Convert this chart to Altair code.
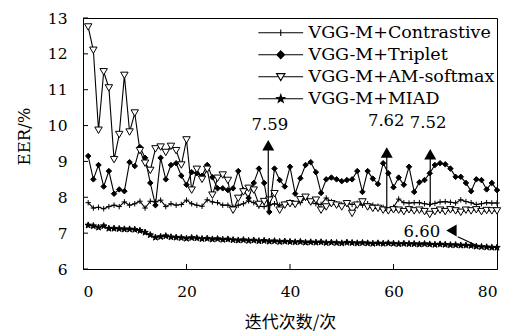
import math
import altair as alt
import pandas as pd

# ---------------- data ----------------
iters = list(range(1, 81))

contrastive = [7.85, 7.70, 7.72, 7.68, 7.74, 7.78, 7.74, 7.87, 7.78, 7.82,
               7.89, 7.70, 7.89, 7.87, 7.92, 7.74, 7.82, 7.78, 7.80, 7.92,
               7.82, 7.78, 7.75, 7.93, 7.87, 7.85, 7.78, 7.78, 7.72, 7.78,
               7.82, 7.90, 7.85, 7.75, 7.74, 7.78, 7.82, 7.78, 7.82, 7.87,
               7.82, 7.85, 7.98, 7.85, 7.82, 7.80, 7.98, 7.88, 7.82, 7.80,
               7.84, 7.80, 7.83, 7.78, 7.82, 7.78, 7.75, 7.72, 7.65, 7.72,
               7.95, 7.85, 7.84, 7.85, 7.85, 7.82, 7.80, 7.83, 7.87, 7.88,
               7.86, 7.84, 7.93, 7.88, 7.85, 7.80, 7.82, 7.85, 7.84, 7.84]

triplet = [9.15, 8.50, 8.90, 8.30, 8.73, 8.10, 8.22, 8.17, 8.98, 8.87,
           9.40, 9.10, 8.40, 7.78, 9.10, 8.50, 8.90, 8.95, 8.60, 8.35,
           8.70, 8.67, 8.60, 8.90, 8.56, 8.25, 8.25, 8.20, 8.25, 8.73,
           8.20, 7.98, 8.40, 8.80, 8.40, 7.59, 8.80, 8.48, 8.30, 8.85,
           8.10, 8.53, 8.90, 8.98, 8.70, 8.12, 8.50, 8.55, 8.50, 8.45,
           8.48, 8.50, 8.73, 8.15, 8.73, 8.52, 8.37, 8.95, 8.67, 8.28,
           8.55, 8.35, 8.85, 8.15, 8.42, 8.48, 8.67, 8.90, 8.95, 8.92,
           8.80, 8.57, 8.57, 8.40, 8.17, 8.50, 8.48, 8.22, 8.40, 8.20]

amsoftmax = [12.75, 12.10, 9.87, 11.50, 11.05, 9.05, 9.75, 11.40, 9.82, 10.35,
             9.30, 8.95, 8.75, 9.35, 9.40, 9.25, 9.42, 9.30, 8.90, 9.60,
             8.20, 8.78, 8.50, 8.78, 8.06, 8.53, 8.62, 8.47, 7.64, 7.97,
             8.15, 8.25, 8.20, 7.80, 7.88, 7.92, 8.10, 7.64, 7.78, 7.82,
             7.80, 7.93, 8.00, 7.87, 7.92, 7.64, 7.73, 7.82, 7.78, 7.73,
             7.82, 7.55, 7.78, 7.87, 7.73, 7.69, 7.69, 7.64, 7.62, 7.65,
             7.64, 7.60, 7.65, 7.62, 7.64, 7.60, 7.52, 7.60, 7.64, 7.60,
             7.65, 7.62, 7.58, 7.64, 7.62, 7.65, 7.60, 7.63, 7.62, 7.62]

miad = [7.22, 7.20, 7.16, 7.20, 7.13, 7.13, 7.12, 7.11, 7.11, 7.10,
        7.07, 7.02, 6.95, 6.88, 6.90, 6.92, 6.89, 6.88, 6.87, 6.85,
        6.87, 6.86, 6.84, 6.85, 6.83, 6.84, 6.82, 6.83, 6.81, 6.80,
        6.81, 6.79, 6.80, 6.78, 6.79, 6.77, 6.78, 6.76, 6.77, 6.76,
        6.75, 6.76, 6.74, 6.75, 6.74, 6.75, 6.73, 6.74, 6.73, 6.72,
        6.74, 6.73, 6.72, 6.73, 6.72, 6.71, 6.72, 6.71, 6.72, 6.71,
        6.70, 6.71, 6.70, 6.70, 6.69, 6.70, 6.69, 6.68, 6.69, 6.68,
        6.67, 6.67, 6.66, 6.66, 6.65, 6.63, 6.62, 6.61, 6.60, 6.60]

series_names = ["VGG-M+Contrastive", "VGG-M+Triplet", "VGG-M+AM-softmax", "VGG-M+MIAD"]

x_ticks = [0, 20, 40, 60, 80]
y_ticks = [6, 7, 8, 9, 10, 11, 12, 13]
x_inner_ticks = [20, 40, 60]

# vertical arrow annotations
ann_labels = ["7.59", "7.62", "7.52"]
ann_x = [35.8, 58.7, 67.1]
ann_low = [7.59, 7.64, 7.75]
ann_head = [9.45, 9.25, 9.20]
ann_text_x = [36.1, 58.6, 66.7]
ann_text_y = [10.02, 10.12, 10.07]

# diagonal arrow annotation (6.60)
diag_label = ["6.60"]
diag_text_x = [65.5]
diag_text_y = [7.03]
diag_head_x = [71.7]
diag_head_y = [7.03]
diag_x1 = [72.4]
diag_y1 = [6.90]
diag_x2 = [76.3]
diag_y2 = [6.64]

# ---------------- tables ----------------
all_values = [contrastive, triplet, amsoftmax, miad]
rows = []
for name, vals in zip(series_names, all_values):
    for i, v in zip(iters, vals):
        rows.append({"iter": i, "eer": v, "series": name})
df = pd.DataFrame(rows)

ann_df = pd.DataFrame({"ax": ann_x, "low": ann_low, "hd": ann_head,
                       "tx": ann_text_x, "ty": ann_text_y, "label": ann_labels})
diag_df = pd.DataFrame({"x1": diag_x1, "y1": diag_y1, "x2": diag_x2, "y2": diag_y2,
                        "hx": diag_head_x, "hy": diag_head_y,
                        "tx": diag_text_x, "ty": diag_text_y, "label": diag_label})
ytick_df = pd.DataFrame({"v": y_ticks})
xtick_df = pd.DataFrame({"v": x_inner_ticks})

# ---------------- styles ----------------
SERIF = "DejaVu Serif"
W, H = 414, 251

xs = alt.Scale(domain=[0, 80], nice=False, zero=False)
ys = alt.Scale(domain=[6, 13], nice=False, zero=False)

xaxis = alt.Axis(values=x_ticks, ticks=False, tickSize=0, grid=False,
                 labelFont=SERIF, labelFontSize=15.5, labelColor="black",
                 labelPadding=15, domainColor="black", orient="bottom",
                 title="迭代次数/次", titleFont="Noto Sans CJK SC",
                 titleFontSize=17, titleFontWeight="normal", titleColor="black",
                 titleY=45, titleBaseline="top")
yaxis = alt.Axis(values=y_ticks, ticks=False, tickSize=0, grid=False,
                 labelFont=SERIF, labelFontSize=15.5, labelColor="black",
                 labelPadding=16, domainColor="black", orient="left",
                 title="EER/%", titleFont=SERIF, titleFontSize=16.5,
                 titleFontWeight="normal", titleColor="black",
                 titleX=-51, titleY=118)


def X(field):
    return alt.X(f"{field}:Q", scale=xs, axis=xaxis)


def Y(field):
    return alt.Y(f"{field}:Q", scale=ys, axis=yaxis)


def star(R=1.0, r=0.42):
    pts = []
    for k in range(10):
        a = math.radians(-90 + 36 * k)
        rad = R if k % 2 == 0 else r
        pts.append(f"{rad*math.cos(a):.3f},{rad*math.sin(a):.3f}")
    return "M" + "L".join(pts) + "Z"


plus_path = "M-1,0H1M0,-1V1"
star_path = star()

LINE = "M-3.2,0H3.2"
leg_paths = [
    LINE + "M0,-0.45V0.45",
    LINE + "M0,-0.55L0.55,0L0,0.55L-0.55,0Z",
    "M-3.2,0H-0.45M0.45,0H3.2" + "M-0.6,-0.45L0.6,-0.45L0,0.55Z",
    LINE + star(R=0.6, r=0.25),
]

marker_style = {
    "VGG-M+Contrastive": dict(shape=plus_path, fill="black", size=30),
    "VGG-M+Triplet": dict(shape="diamond", fill="black", size=30),
    "VGG-M+AM-softmax": dict(shape="triangle-down", fill="white", size=55),
    "VGG-M+MIAD": dict(shape=star_path, fill="black", size=45),
}

base = alt.Chart(df)

lines = base.mark_line(color="black", strokeWidth=1.1).encode(
    x=X("iter"), y=Y("eer"), detail="series:N")

point_layers = []
for name in series_names:
    st = marker_style[name]
    point_layers.append(
        base.transform_filter(alt.datum.series == name).mark_point(
            shape=st["shape"], fill=st["fill"], size=st["size"], filled=True,
            stroke="black", strokeWidth=1, opacity=1,
        ).encode(x=X("iter"), y=Y("eer"))
    )

leg = alt.Legend(title=None, orient="none", legendX=189, legendY=6,
                 symbolSize=196, symbolOpacity=1,
                 symbolStrokeColor="black", symbolStrokeWidth=1.1,
                 labelFont=SERIF, labelFontSize=17.5,
                 labelColor="black", labelOffset=19,
                 rowPadding=3, padding=0, labelLimit=400)

legend_layer = base.mark_point(filled=True, opacity=0, size=196, strokeWidth=1.1).encode(
    x=X("iter"), y=Y("eer"),
    shape=alt.Shape("series:N", scale=alt.Scale(domain=series_names, range=leg_paths),
                    legend=leg),
    fill=alt.Fill("series:N", scale=alt.Scale(domain=series_names,
                  range=["black", "black", "white", "black"]), legend=leg),
    stroke=alt.Stroke("series:N", scale=alt.Scale(domain=series_names,
                      range=["black", "black", "black", "black"]), legend=leg),
)

yticks = alt.Chart(ytick_df).mark_rule(color="black", strokeWidth=1).encode(
    y=Y("v"), x=alt.value(0), x2=alt.value(5))
xticks = alt.Chart(xtick_df).mark_rule(color="black", strokeWidth=1).encode(
    x=X("v"), y=alt.value(H), y2=alt.value(H - 5))

ann_rule = alt.Chart(ann_df).mark_rule(color="black", strokeWidth=1.2).encode(
    x=X("ax"), y=Y("low"), y2="hd:Q")
ann_head_m = alt.Chart(ann_df).mark_point(shape="triangle-up", filled=True, color="black",
                                           size=144, opacity=1).encode(
    x=X("ax"), y=Y("hd"))
ann_text = alt.Chart(ann_df).mark_text(font=SERIF, fontSize=16.5, color="black",
                                       baseline="middle", align="center").encode(
    x=X("tx"), y=Y("ty"), text="label:N")

diag_rule = alt.Chart(diag_df).mark_rule(color="black", strokeWidth=1.2).encode(
    x=X("x1"), y=Y("y1"), x2="x2:Q", y2="y2:Q")
diag_head_m = alt.Chart(diag_df).mark_point(shape="triangle-down", filled=True, color="black",
                                             size=144, opacity=1, angle=330).encode(
    x=X("hx"), y=Y("hy"))
diag_text = alt.Chart(diag_df).mark_text(font=SERIF, fontSize=16.5, color="black",
                                         baseline="middle", align="center").encode(
    x=X("tx"), y=Y("ty"), text="label:N")

chart = alt.layer(
    lines, *point_layers, legend_layer, yticks, xticks,
    ann_rule, ann_head_m, ann_text, diag_rule, diag_head_m, diag_text,
).properties(
    width=W, height=H,
    autosize=alt.AutoSizeParams(type="none"),
    padding={"left": 75, "top": 10, "right": 9, "bottom": 66},
    background="white",
).configure_view(
    stroke="black", strokeWidth=1
)

chart.save("out.html", embed_options={"renderer": "svg", "actions": False})
